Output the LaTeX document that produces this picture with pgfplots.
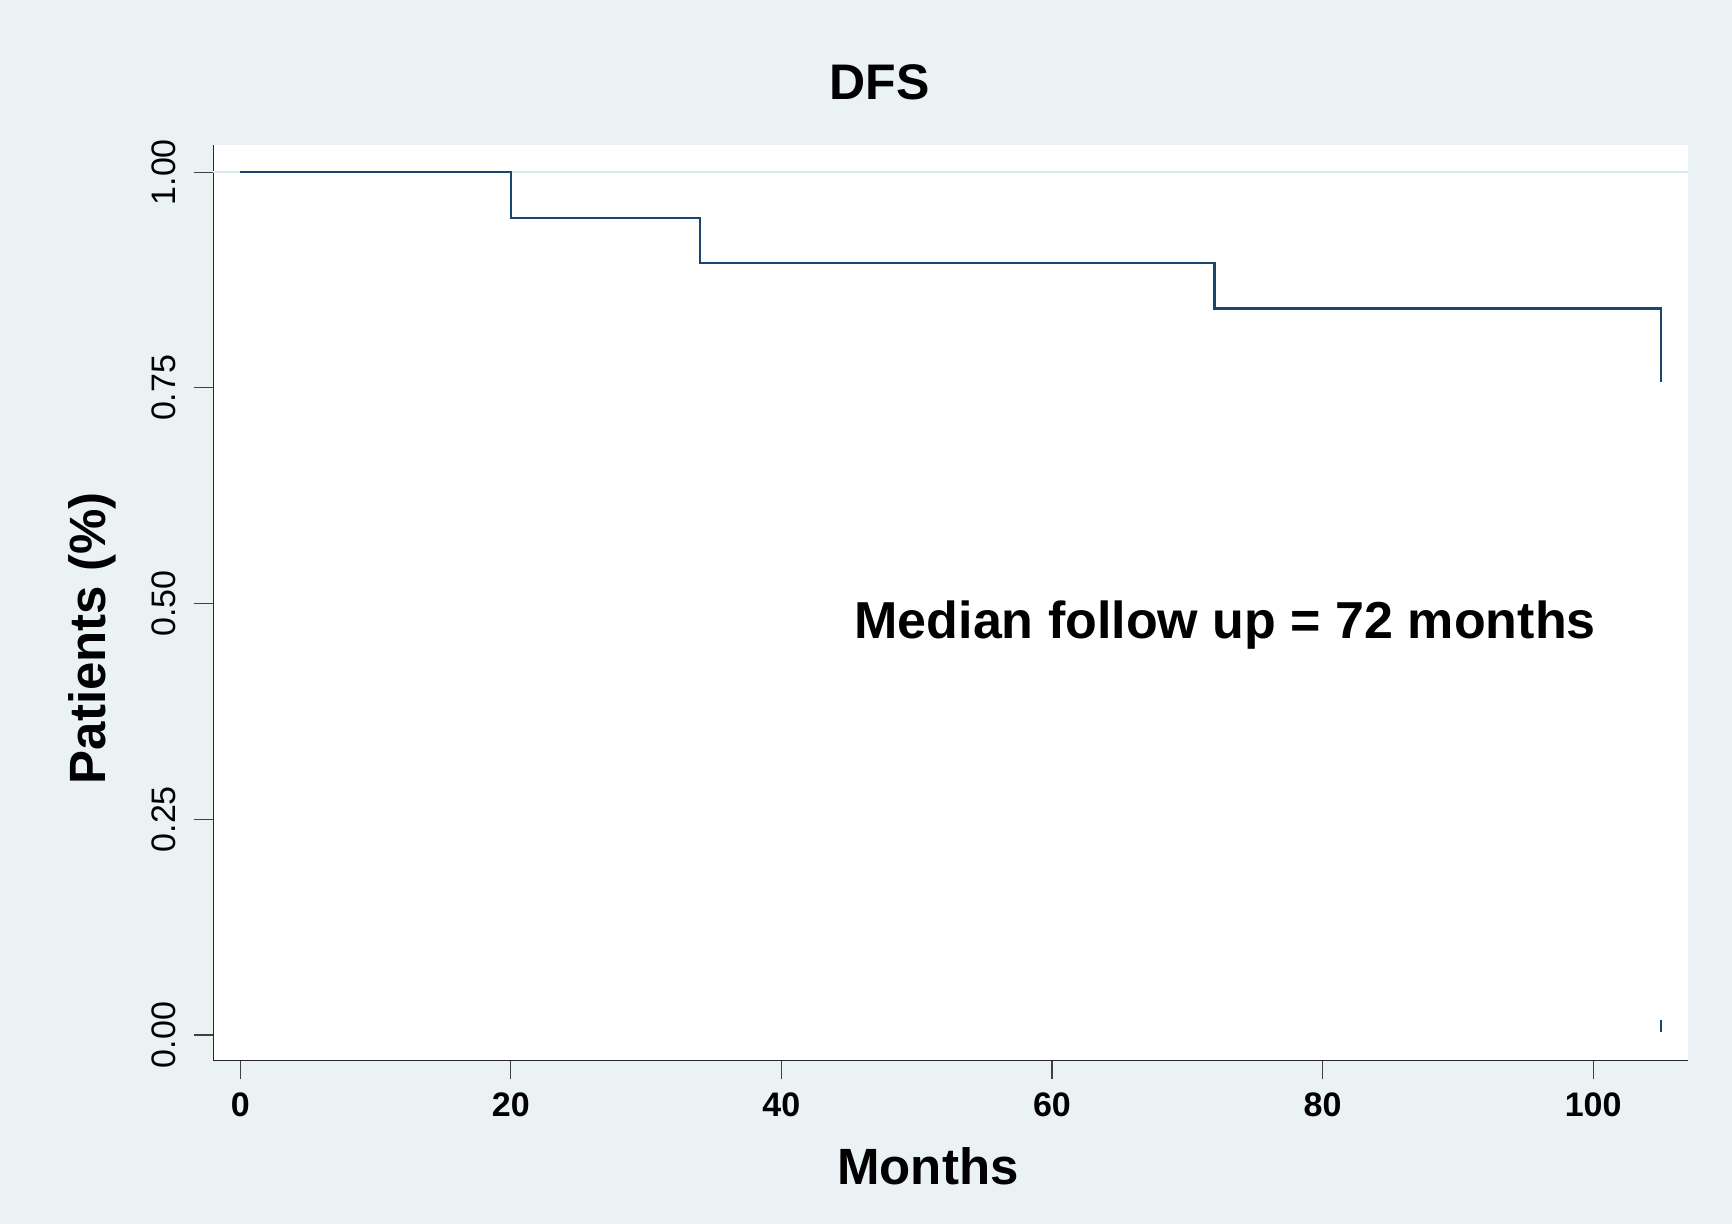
\documentclass[border=0pt]{standalone}
\usepackage{pgfplots}
\pgfplotsset{compat=1.18}
\usepackage{fontspec}
\setmainfont{Liberation Sans}
\definecolor{bgc}{RGB}{234,242,244}
\definecolor{navyc}{RGB}{26,71,111}
\definecolor{gridc}{RGB}{218,232,238}
\begin{document}
\begin{tikzpicture}
\fill[bgc] (0,0) rectangle (866pt,612pt);
\useasboundingbox (0,0) rectangle (866pt,612pt);
\begin{axis}[
  at={(106.6pt,81.8pt)}, anchor=south west,
  scale only axis, width=737.3pt, height=457.9pt,
  xmin=-2, xmax=107, ymin=-0.0295, ymax=1.032,
  axis lines*=left,
  axis line style={black!85, line width=0.7pt},
  axis background/.style={fill=white},
  tick align=outside, major tick length=9.5pt,
  tick style={black!75, line width=0.6pt},
  minor tick num=0,
  xtick={0,20,40,60,80,100}, xticklabels={0,20,40,60,80,100},
  ytick={0,0.25,0.5,0.75,1}, yticklabels={0.00,0.25,0.50,0.75,1.00},
  xticklabel shift=3.3pt, yticklabel shift=5.5pt,
  xticklabel style={font=\fontsize{17}{20}\selectfont\bfseries},
  yticklabel style={font=\fontsize{17}{20}\selectfont, rotate=90, anchor=south},
  xlabel={Months}, ylabel={Patients (\%)}, title={DFS},
  xlabel style={font=\fontsize{25.5}{30}\selectfont\bfseries, at={(axis description cs:0.4847,-0.135)}, anchor=base},
  ylabel style={font=\fontsize{25.5}{30}\selectfont\bfseries, at={(axis description cs:-0.0732,0.461)}, anchor=base},
  title style={font=\fontsize{25}{30}\selectfont\bfseries, at={(axis description cs:0.452,1.0361)}, anchor=base},
  clip=false,
]
\draw[gridc, line width=1pt] (axis cs:-2,1) -- (axis cs:107,1);
\addplot[const plot, navyc, line width=1.2pt] coordinates {
  (0,1) (20,0.947) (34,0.895) (72,0.842) (105,0.757)
};
\addplot[navyc, line width=1.2pt] coordinates {(105,0.003) (105,0.017)};
\node[anchor=base, font=\fontsize{26}{30}\selectfont\bfseries] at (axis cs:72.8,0.460) {Median follow up = 72 months};
\end{axis}
\end{tikzpicture}
\end{document}
